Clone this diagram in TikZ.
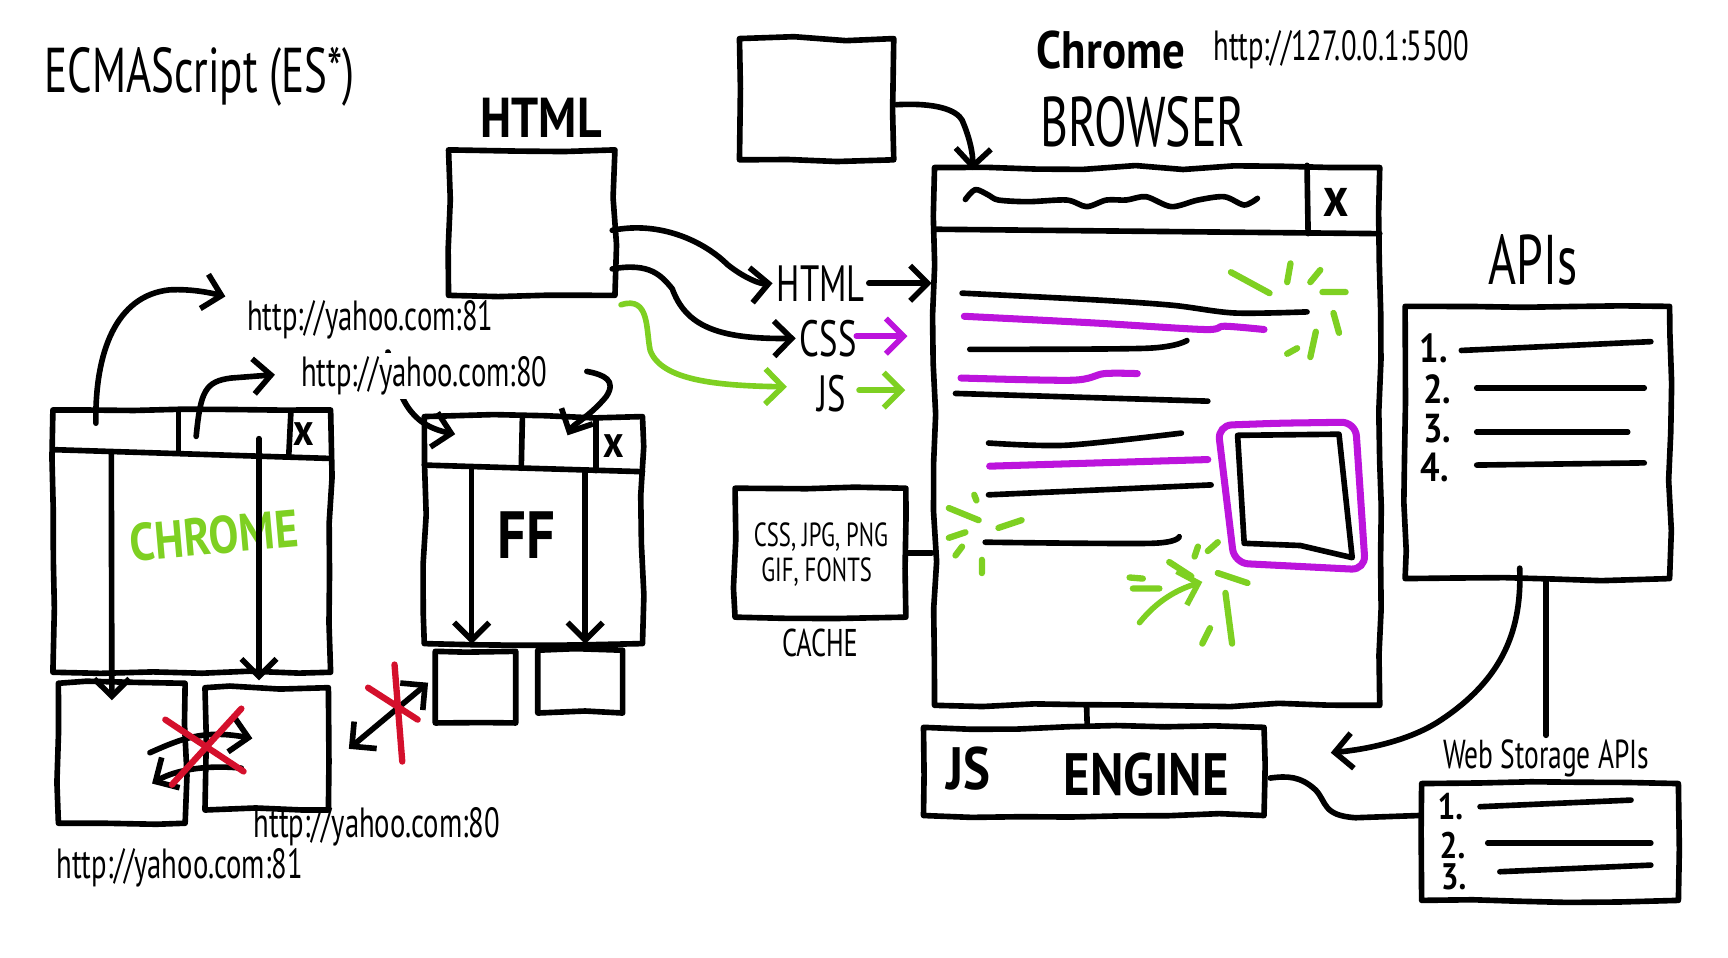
\documentclass[tikz,border=0pt]{standalone}
\usepackage{fontspec}
\setmainfont{PT Sans}
\newfontfamily\narrowfont[FakeStretch=0.68]{PT Sans}
\newfontfamily\handfont[FakeStretch=0.85]{PT Sans}
\usetikzlibrary{arrows.meta,calc,fit,decorations.pathmorphing}
\definecolor{sketchgreen}{RGB}{126,208,34}
\definecolor{sketchpurple}{RGB}{188,20,220}
\definecolor{sketchred}{RGB}{212,16,44}
\pgfmathsetseed{42}

\begin{document}
\begin{tikzpicture}[
    x=0.01102cm, y=-0.01102cm,
    pen/.style={line width=1.6pt, line cap=round, line join=round},
    box/.style={draw, pen, inner sep=0pt, decorate, decoration={random steps, segment length=14pt, amplitude=0.6pt}},
    arrow/.style={pen, -{Straight Barb[length=5pt, width=10pt]}},
    twoway/.style={pen, {Straight Barb[length=5pt, width=10pt]}-{Straight Barb[length=5pt, width=10pt]}},
    txt/.style={font=\narrowfont\fontsize{#1}{#1}\selectfont, inner sep=1pt},
    hand/.style={font=\handfont\bfseries\fontsize{#1}{#1}\selectfont, inner sep=1pt},
    spark/.style={line width=1.8pt, line cap=round, sketchgreen},
    crossout/.style={line width=1.8pt, line cap=round, sketchred},
    hilite/.style={line width=2pt, line cap=round, sketchpurple}
]
    \useasboundingbox (0,0) rectangle (1568,869);

    % Titoli
    \node[txt=18] (ecma) at (181,70) {ECMAScript (ES*)};
    \node[hand=15] (chromename) at (1008,45) {Chrome};
    \node[txt=12] (localurl) at (1217,45) {http://127.0.0.1:5500};
    \node[txt=20] (browserlabel) at (1037,111) {BROWSER};
    \node[txt=20] (apilabel) at (1391,236) {APIs};

    % Sorgenti
    \node[hand=16] (htmltitle) at (491,107) {HTML};
    \node[box, fit={(407,136) (558,268)}] (htmldoc) {};
    \node[box, fit={(671,35) (811,145)}] (srcdoc) {};

    % Browser
    \node[box, fit={(848,152) (1252,640)}] (browser) {};
    \draw[pen] (848,208) -- (1252,212);
    \draw[pen] (1186,150) -- (1187,212);
    \node[hand=16] (closebig) at (1212,184) {x};
    \draw[pen] plot[smooth] coordinates {(876,181) (885,172) (897,177) (906,181.5) (933,183) (968,181.5) (986,187.5) (1004,181.5) (1022,181.5) (1040,178.5) (1063,187.5) (1087,181.5) (1111,178.5) (1129,186) (1141,180)};

    % Contenuto della pagina
    \draw[pen] plot[smooth] coordinates {(873,266) (992,272) (1064,277) (1120,284) (1186,283)};
    \draw[hilite] plot[smooth] coordinates {(875,287) (992,293) (1093,299) (1111,296) (1147,299)};
    \draw[pen] plot[smooth] coordinates {(880,317) (1041,316) (1077,309)};
    \draw[hilite] plot[smooth] coordinates {(872,343) (973,345) (1002,339) (1032,339)};
    \draw[pen] (867,357) -- (1096,364);
    \draw[pen] plot[smooth] coordinates {(897,402) (968,404) (1072,393)};
    \draw[hilite] (898,423) -- (1096,417);
    \draw[pen] (897,449) -- (1099,440);
    \draw[pen] plot[smooth] coordinates {(894,492) (1045,493) (1070,487)};
    \draw[hilite, rounded corners=4pt] (1105,386) -- (1160,384) -- (1230,383) -- (1239,517) -- (1120,511) -- cycle;
    \draw[pen] (1123,395) -- (1215,394) -- (1227,506) -- (1180,495) -- (1129,493) -- cycle;

    % Scintille
    \draw[spark] (1117,247) -- (1152,266) (1171,239) -- (1168,256) (1198,245) -- (1189,256) (1200,265) -- (1221,265) (1210,284) -- (1215,302) (1194,301) -- (1189,324) (1168,321) -- (1177,316);
    \draw[spark] (861,461) -- (888,472) (884,449) -- (886,454) (906,479) -- (927,472) (861,488) -- (876,483) (867,504) -- (873,496) (891,508) -- (891,520);
    \draw[spark] (1025,524) -- (1037,525) (1028,534) -- (1052,534) (1061,510) -- (1081,523) (1084,505) -- (1087,496) (1096,500) -- (1105,492) (1105,520) -- (1132,529) (1112,538) -- (1118,584) (1098,570) -- (1091,584);
    \draw[arrow, sketchgreen] (1034,565) .. controls (1050,545) and (1068,535) .. (1091,528);

    % HTML, CSS, JS
    \node[txt=14.5, anchor=west] (lblhtml) at (701,257) {HTML};
    \node[txt=14.5, anchor=west] (lblcss) at (722,307) {CSS};
    \node[txt=14.5, anchor=west] (lbljs) at (738,357) {JS};
    \draw[arrow] ($(htmldoc.east)+(-5,7)$) .. controls (600,200) and (640,220) .. (660,240) .. controls (675,252) and (690,258) .. (lblhtml.west);
    \draw[arrow] ($(htmldoc.east)+(-5,42)$) .. controls (590,238) and (600,250) .. (610,262) .. controls (622,295) and (650,308) .. (lblcss.west);
    \draw[arrow, sketchgreen] ($(htmldoc.south east)+(3,6)$) .. controls (590,268) and (586,300) .. (590,318) .. controls (600,345) and (650,350) .. ($(lbljs.west)+(-24,-6)$);
    \draw[arrow] (lblhtml.east) -- (lblhtml.east -| browser.west);
    \draw[arrow, sketchpurple] ($(lblcss.east)+(-4,-2)$) -- ($(lblcss.east -| browser.west)+(-22,-2)$);
    \draw[arrow, sketchgreen] ($(lbljs.east)+(8,-3)$) -- ($(lbljs.east -| browser.west)+(-24,-3)$);
    \draw[arrow] ($(srcdoc.east)+(0,5)$) .. controls (850,93) and (868,100) .. (873,109) .. controls (880,125) and (883,140) .. ($(browser.north west)+(37,5)$);

    % Cache
    \node[box, fit={(667,443) (822,560)}] (cache) {};
    \node[txt=9.5] (cachetop) at (745,487) {CSS, JPG, PNG};
    \node[txt=9.5] (cachebottom) at (741,519) {GIF, FONTS};
    \node[txt=11] (cachelabel) at (744,583) {CACHE};
    \draw[pen] (cache.east) -- (cache.east -| browser.west);

    % Motore JS
    \node[box, fit={(838,660) (1147,740)}] (jsengine) {};
    \node[hand=17] (jstext) at (879,697) {JS};
    \node[hand=17] (enginetext) at (1040,703) {ENGINE};
    \draw[pen] ($(browser.south)+(-64,-2)$) -- ($(jsengine.north)+(-6,0)$);

    % APIs
    \node[box, fit={(1275,278) (1515,525)}] (apis) {};
    \node[hand=11.5] (api1) at (1301,316) {1.};
    \node[hand=11.5] (api2) at (1304,353) {2.};
    \node[hand=11.5] (api3) at (1304,389) {3.};
    \node[hand=11.5] (api4) at (1302,424) {4.};
    \draw[pen] (1326,318) -- (1498,310);
    \draw[pen] (1340,352) -- (1492,352);
    \draw[pen] (1340,392) -- (1477,392);
    \draw[pen] (1340,422) -- (1492,420);

    \node[txt=11.5] (storagelabel) at (1403,688) {Web Storage APIs};
    \node[box, fit={(1290,711) (1523,817)}] (storage) {};
    \node[hand=10.5] (store1) at (1316,732) {1.};
    \node[hand=10.5] (store2) at (1318,767) {2.};
    \node[hand=10.5] (store3) at (1319,796) {3.};
    \draw[pen] (1343,732) -- (1480,726);
    \draw[pen] (1350,765) -- (1498,765);
    \draw[pen] (1361,791) -- (1498,785);

    \draw[arrow] ($(apis.south)+(-16,-12)$) .. controls (1381,570) and (1365,615) .. (1308,653) .. controls (1280,672) and (1240,680) .. ($(jsengine.east)+(58,-17)$);
    \draw[pen] (apis.south -| storagelabel.north) -- (storagelabel.north);
    \draw[pen] ($(jsengine.east)+(3,6)$) .. controls (1168,704) and (1180,704) .. (1194,717) .. controls (1204,728) and (1200,740) .. (1230,742) -- ($(storage.west)+(0,-24)$);

    % Finestra Chrome
    \node[box, fit={(48,372) (300,610)}] (chromewin) {};
    \draw[pen] (48,408) -- (300,416);
    \draw[pen] (162,372) -- (162,410);
    \draw[pen] (264,373) -- (262,414);
    \node[hand=13] (chromeclose) at (276,394) {x};
    \node[hand=15, text=sketchgreen, rotate=5] (chromename2) at (194,486) {CHROME};
    \node[box, fit={(53,620) (168,747)}] (cbox1) {};
    \node[box, fit={(186,624) (298,735)}] (cbox2) {};
    \draw[arrow] (101,410) -- ($(cbox1.north)+(-9,18)$);
    \draw[arrow] (235,398) -- ($(cbox2.north)+(-7,-4)$);
    \draw[arrow] (136,683) .. controls (165,670) and (185,662) .. (229,670);
    \draw[arrow] (219,697) .. controls (190,694) and (160,698) .. (138,711);
    \draw[crossout] (150,653) -- (221,700) (219,643) -- (156,712);

    % Finestra FF
    \node[box, fit={(385,378) (583,584)}] (ffwin) {};
    \draw[pen] (385,422) -- (583,428);
    \draw[pen] (474,380) -- (473,425);
    \draw[pen] (541,381) -- (541,427);
    \node[hand=13] (ffclose) at (557,405) {x};
    \node[hand=19] (ffname) at (478,486) {FF};
    \node[box, fit={(395,591) (468,656)}] (fbox1) {};
    \node[box, fit={(488,590) (565,647)}] (fbox2) {};
    \draw[arrow] (428,424) -- ($(fbox1.north)+(-3.5,-4)$);
    \draw[arrow] (531,428) -- ($(fbox2.north)+(4.5,-3)$);
    \draw[twoway] ($(cbox2.east)+(16,0)$) -- ($(fbox1.west)+(-4,-4)$);
    \draw[crossout] (358,603) -- (365,691) (334,624) -- (379,653);

    % Origini
    \node[txt=12] (url81) at (336,290) {http://yahoo.com:81};
    \draw[arrow] (87,384) .. controls (86,320) and (105,268) .. (154,263) .. controls (175,262) and (192,266) .. ($(url81.west)+(-16,-21)$);
    \draw[arrow] ($(url81.south)+(16,8)$) .. controls (362,360) and (370,385) .. (413,394);
    \node[txt=12, fill=white] (url80) at (385,341) {http://yahoo.com:80};
    \draw[arrow] (178,396) .. controls (182,355) and (186,346) .. (210,343) -- ($(url80.west)+(-20,-1)$);
    \draw[arrow] ($(url80.east)+(32,-4)$) .. controls (548,340) and (560,345) .. (550,360) .. controls (535,378) and (520,385) .. (515,395);
    \node[txt=12] (url80b) at (342,750) {http://yahoo.com:80};
    \node[txt=12] (url81b) at (163,787) {http://yahoo.com:81};

\end{tikzpicture}
\end{document}
